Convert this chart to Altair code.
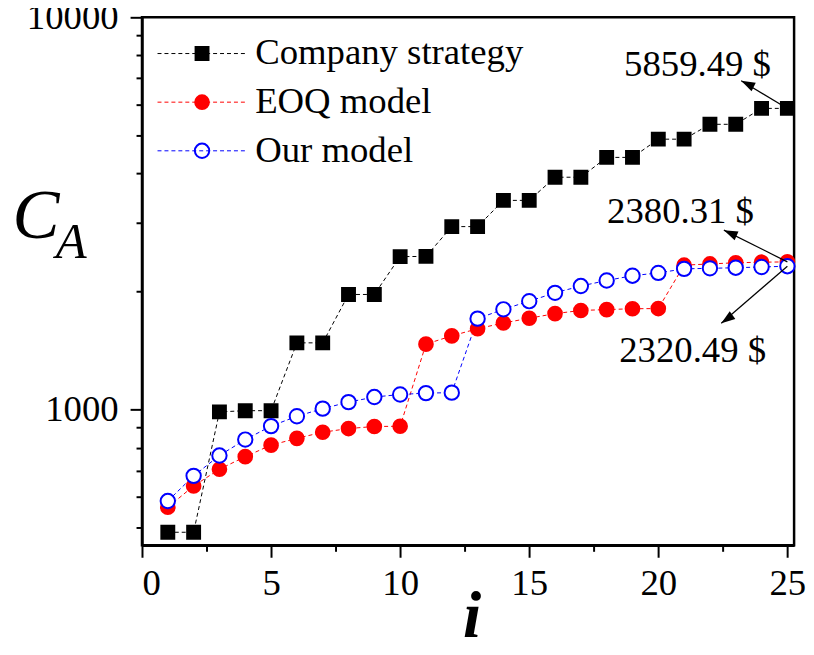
import altair as alt
import pandas as pd

# ---------------- data ----------------
idx = list(range(1, 26))
series_names = ["Company strategy", "EOQ model", "Our model"]
company = [487, 487, 987, 994, 994, 1480, 1480, 1966, 1966, 2455, 2458, 2928, 2928,
           3415, 3415, 3912, 3912, 4395, 4395, 4891, 4891, 5337, 5337, 5859.49, 5859.49]
eoq = [564, 639, 705, 759, 812, 845, 876, 895, 906, 907, 1469, 1542, 1608, 1663, 1710,
       1757, 1790, 1799, 1808, 1810, 2335, 2352, 2368, 2376, 2380.31]
ours = [585, 678, 764, 839, 908, 962, 1006, 1045, 1077, 1093, 1102, 1105, 1706, 1802,
        1890, 1985, 2066, 2134, 2195, 2231, 2285, 2292, 2300, 2310, 2320.49]

y_ticks = [500, 600, 700, 800, 900, 1000, 2000, 3000, 4000, 5000, 6000, 7000, 8000, 9000, 10000]
x_ticks = [0, 2.5, 5, 7.5, 10, 12.5, 15, 17.5, 20, 22.5, 25]

ann_text = ["5859.49 $", "2380.31 $", "2320.49 $"]
ann_tx = [21.52, 20.86, 21.33]
ann_ty = [7088, 2997, 1325]
arrow_from_x = [25, 25, 25]
arrow_from_y = [5859.49, 2380.31, 2320.49]
arrow_to_x = [23.21, 22.54, 22.44]
arrow_to_y = [6887, 2868, 1661]
arrow_angle = [296, 294, 234]

rows = []
for name, vals in zip(series_names, [company, eoq, ours]):
    for i, v in zip(idx, vals):
        rows.append({"i": i, "value": v, "series": name, "lseries": name})
df = pd.DataFrame(rows)

ann = pd.DataFrame({"text": ann_text, "x": ann_tx, "y": ann_ty})
arr = pd.DataFrame({"x": arrow_from_x, "y": arrow_from_y, "x2": arrow_to_x,
                    "y2": arrow_to_y, "ang": arrow_angle})

FONT = "Liberation Serif"
FS = 37
colors_line = ["black", "red", "blue"]
colors_fill = ["black", "red", "white"]
shapes = ["square", "circle", "circle"]
sizes = [169, 210, 144]

xscale = alt.Scale(domain=[0, 25.26], nice=False, zero=False)
yscale = alt.Scale(type="log", domain=[451, 10000], nice=False)

xaxis = alt.Axis(
    values=x_ticks, format="d",
    labelExpr="datum.value % 5 == 0 ? datum.label : ''",
    tickSize={"condition": {"test": "datum.value % 5 == 0", "value": 12}, "value": 6},
    title="i", titleFont=FONT, titleFontStyle="italic", titleFontSize=66,
    titleFontWeight="bold", titleX=332, titleY=92, titleAlign="center",
    titleBaseline="alphabetic", labelPadding=9, grid=False,
    labelFont=FONT, labelFontSize=FS, labelColor="black",
)
yaxis = alt.Axis(
    values=y_ticks, format="d",
    labelExpr="datum.value == 1000 || datum.value == 10000 ? datum.label : ''",
    tickSize={"condition": {"test": "datum.value == 1000 || datum.value == 10000", "value": 12}, "value": 6},
    title="C", titleFont=FONT, titleFontStyle="italic", titleFontSize=71,
    titleFontWeight="normal", titleAngle=0, titleX=-131, titleY=222,
    titleAlign="left", titleBaseline="alphabetic", labelPadding=12, grid=False,
    labelFont=FONT, labelFontSize=FS, labelColor="black",
)

base = alt.Chart(df)

leg_common = dict(orient="none", legendX=42, legendY=18, title=None, padding=0,
                  labelFont=FONT, labelFontSize=FS, labelColor="black", labelLimit=500,
                  rowPadding=11, labelOffset=35)

lines = base.mark_line(strokeDash=[4, 3], strokeWidth=1).encode(
    x=alt.X("i:Q", scale=xscale, axis=xaxis),
    y=alt.Y("value:Q", scale=yscale, axis=yaxis),
    color=alt.Color("lseries:N", scale=alt.Scale(domain=series_names, range=colors_line),
                    legend=alt.Legend(symbolType="M-6.9,0H6.9", symbolDash=[4, 3],
                                      symbolStrokeWidth=1, labelOpacity=0,
                                      symbolSize=169, **leg_common)),
)

pt_leg = alt.Legend(symbolStrokeWidth=2, **leg_common)
points = base.mark_point(filled=True, strokeWidth=2, opacity=1).encode(
    x="i:Q",
    y="value:Q",
    shape=alt.Shape("series:N", scale=alt.Scale(domain=series_names, range=shapes), legend=pt_leg),
    fill=alt.Fill("series:N", scale=alt.Scale(domain=series_names, range=colors_fill), legend=pt_leg),
    stroke=alt.Stroke("series:N", scale=alt.Scale(domain=series_names, range=colors_line), legend=pt_leg),
    size=alt.Size("series:N", scale=alt.Scale(domain=series_names, range=sizes), legend=pt_leg),
)

rules = alt.Chart(arr).mark_rule(color="black", strokeWidth=1.2).encode(
    x="x:Q", y="y:Q", x2="x2:Q", y2="y2:Q"
)
heads = alt.Chart(arr).mark_point(shape="M0,0L0.6,1.75L-0.6,1.75Z", filled=True,
                                  color="black", size=256, opacity=1).encode(
    x="x2:Q", y="y2:Q", angle=alt.Angle("ang:Q", scale=None)
)
texts = alt.Chart(ann).mark_text(font=FONT, fontSize=FS, align="center",
                                 baseline="alphabetic", color="black").encode(
    x="x:Q", y="y:Q", text="text:N"
)
sub = alt.Chart(pd.DataFrame({"t": ["A"]})).mark_text(
    font=FONT, fontSize=51, fontStyle="italic", align="left", baseline="alphabetic",
    color="black").encode(x=alt.value(-87), y=alt.value(243), text="t:N")

chart = alt.layer(lines, points, rules, heads, texts, sub).resolve_scale(
    color="independent"
).properties(
    width=657, height=532,
    autosize=alt.AutoSizeParams(type="none"),
    padding={"left": 135, "top": 7, "right": 12, "bottom": 94},
).configure_view(
    stroke="black", strokeWidth=2.5
).configure_axis(
    domainColor="black", domainWidth=2.5, tickColor="black", tickWidth=2,
    labelFont=FONT, labelFontSize=FS, labelColor="black", titleColor="black",
)

chart.save("out.html", embed_options={"renderer": "svg", "actions": False})
